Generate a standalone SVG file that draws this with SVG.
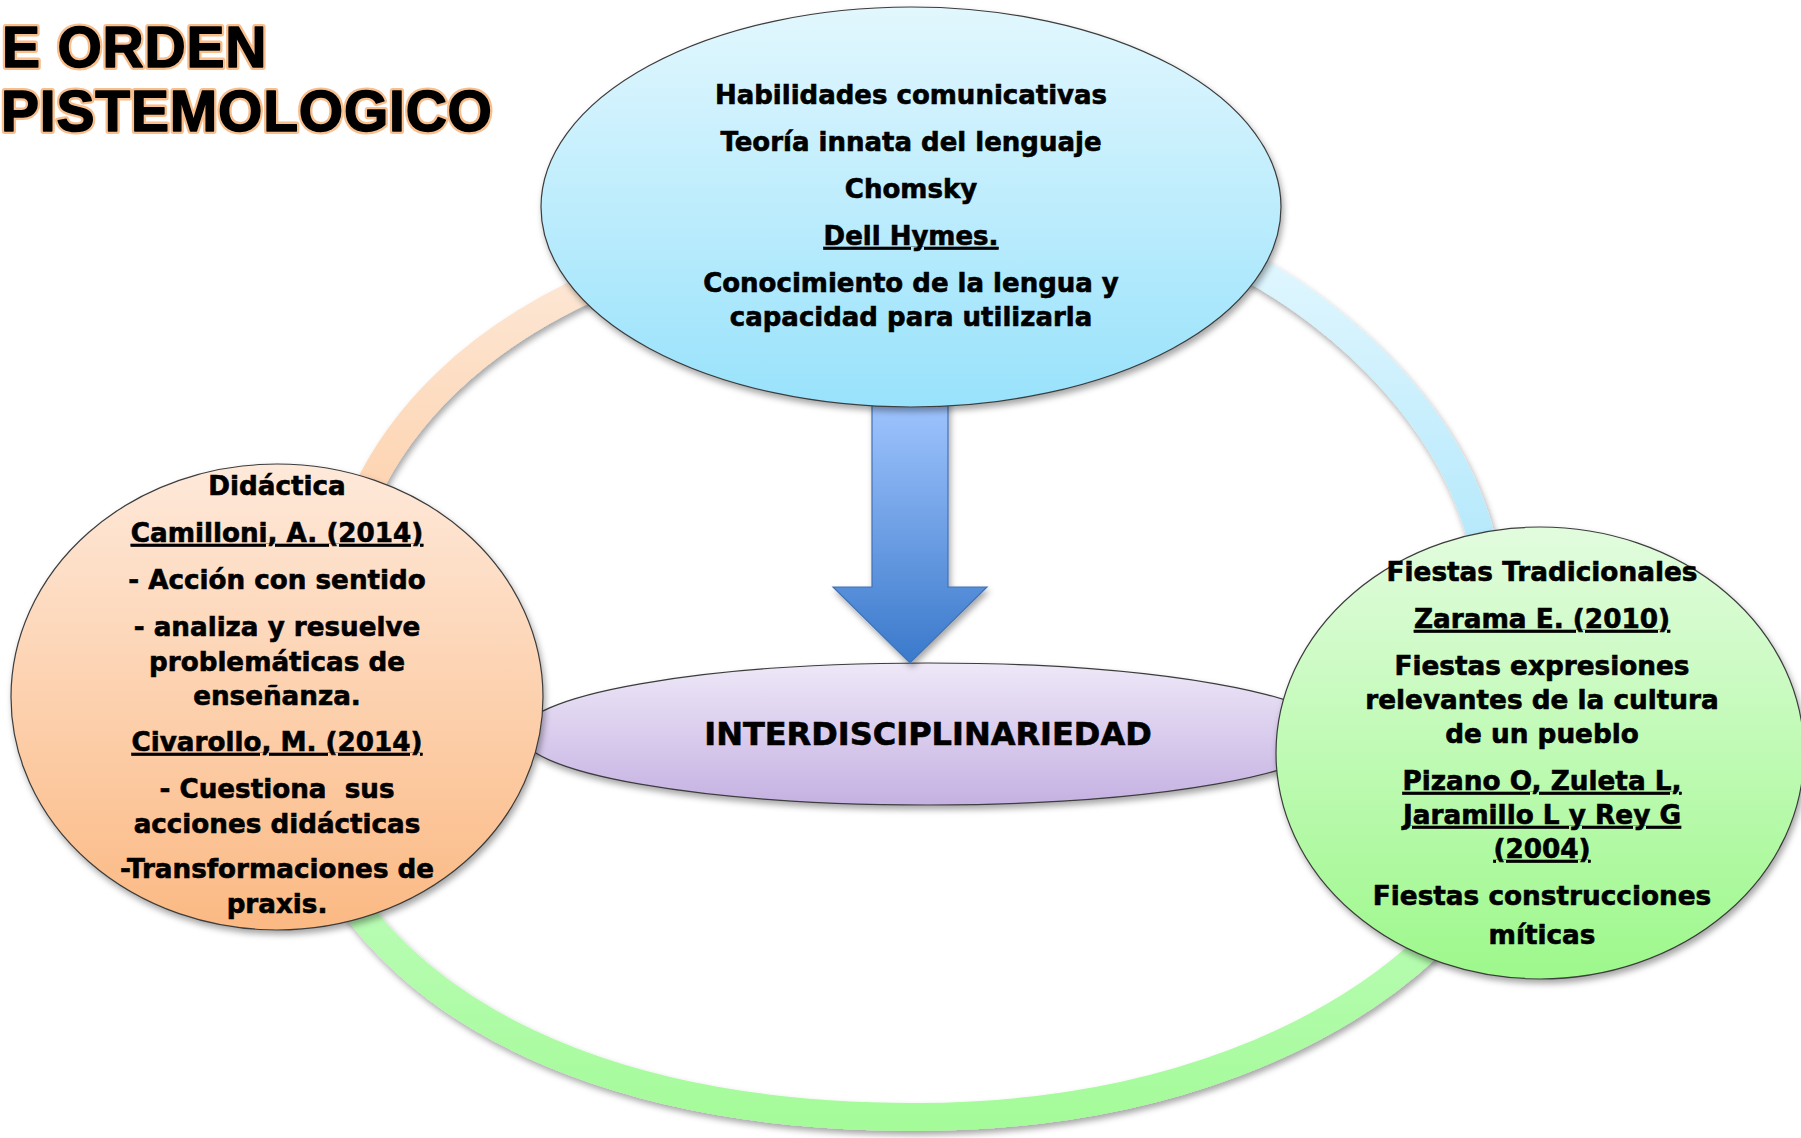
<svg xmlns="http://www.w3.org/2000/svg" width="1801" height="1138" viewBox="0 0 1801 1138">
<defs>
<linearGradient id="gTop" x1="0" y1="0" x2="0" y2="1"><stop offset="0" stop-color="#e2f7fe"/><stop offset="1" stop-color="#98e2fb"/></linearGradient>
<linearGradient id="gOrange" x1="0" y1="0" x2="0" y2="1"><stop offset="0" stop-color="#fee9da"/><stop offset="1" stop-color="#fbb983"/></linearGradient>
<linearGradient id="gGreen" x1="0" y1="0" x2="0" y2="1"><stop offset="0" stop-color="#e2fcde"/><stop offset="1" stop-color="#9df88b"/></linearGradient>
<linearGradient id="gPurple" x1="0" y1="0" x2="0" y2="1"><stop offset="0" stop-color="#eee8f8"/><stop offset="1" stop-color="#c5b1e2"/></linearGradient>
<linearGradient id="gArrow" x1="0" y1="0" x2="0" y2="1"><stop offset="0" stop-color="#a0c5fe"/><stop offset="1" stop-color="#3a79cb"/></linearGradient>
<linearGradient id="gPeach" gradientUnits="userSpaceOnUse" x1="0" y1="285" x2="0" y2="495"><stop offset="0" stop-color="#fde6d3"/><stop offset="1" stop-color="#fdd4b1"/></linearGradient>
<linearGradient id="gBlue" gradientUnits="userSpaceOnUse" x1="0" y1="265" x2="0" y2="560"><stop offset="0" stop-color="#dff6fe"/><stop offset="1" stop-color="#b3e8fc"/></linearGradient>
<linearGradient id="gBand" gradientUnits="userSpaceOnUse" x1="0" y1="900" x2="0" y2="1130"><stop offset="0" stop-color="#b9fcb5"/><stop offset="1" stop-color="#a4fb98"/></linearGradient>
<filter id="sh" x="-10%" y="-10%" width="125%" height="130%"><feDropShadow dx="2" dy="4" stdDeviation="3" flood-color="#000" flood-opacity="0.35"/></filter>
</defs>
<style>
.node{stroke:#3c3c3c;stroke-width:1.2;filter:url(#sh)}
.band{fill:none;stroke-width:28;filter:url(#sh)}
.t{font-family:"DejaVu Sans",Verdana,sans-serif;font-weight:bold;text-anchor:middle;fill:#000;stroke:#000;stroke-width:0.6}
.u{text-decoration:underline}
.title{font-family:"Liberation Sans",Arial,sans-serif;font-weight:bold;font-size:57px;letter-spacing:0.8px}
.tOut{fill:none;stroke:#f8be8c;stroke-width:6;stroke-linejoin:round}
.tIn{fill:#000;stroke:#000;stroke-width:1.4;stroke-linejoin:round}
</style>

<g id="title">
<text class="title tOut" x="2" y="67">E ORDEN</text>
<text class="title tIn" x="2" y="67">E ORDEN</text>
<text class="title tOut" x="1" y="131">PISTEMOLOGICO</text>
<text class="title tIn" x="1" y="131">PISTEMOLOGICO</text>
</g>

<g id="node-interdisciplinariedad">
<ellipse class="node" cx="928" cy="734" rx="407" ry="71" fill="url(#gPurple)"/>
<text class="t" x="928" y="745" font-size="32">INTERDISCIPLINARIEDAD</text>
</g>

<g id="connectors">
<path class="band" stroke="url(#gPeach)" d="M365,495 C400,420 470,340 600,283"/>
<path class="band" stroke="url(#gBlue)" d="M1245,265 C1345,318 1462,425 1486,560"/>
<path class="band" stroke="url(#gBand)" d="M350,900 C450,1040 650,1117 915,1117 C1170,1117 1340,1030 1430,945"/>
<path id="arrow" d="M872,400 L948,400 L948,587 L987,587 L910,663 L833,587 L872,587 Z" fill="url(#gArrow)" stroke="#4172b4" stroke-width="1.2" filter="url(#sh)"/>
</g>

<g id="node-habilidades">
<ellipse class="node" cx="911" cy="207" rx="370" ry="200" fill="url(#gTop)"/>
<g class="t" font-size="26">
<text x="911" y="104">Habilidades comunicativas</text>
<text x="911" y="151">Teoría innata del lenguaje</text>
<text x="911" y="198">Chomsky</text>
<text class="u" x="911" y="245">Dell Hymes.</text>
<text x="911" y="292">Conocimiento de la lengua y</text>
<text x="911" y="326">capacidad para utilizarla</text>
</g>
</g>

<g id="node-didactica">
<ellipse class="node" cx="277" cy="697" rx="266" ry="233" fill="url(#gOrange)"/>
<g class="t" font-size="26.2">
<text x="277" y="495">Didáctica</text>
<text class="u" x="277" y="542">Camilloni, A. (2014)</text>
<text x="277" y="589">- Acción con sentido</text>
<text x="277" y="636">- analiza y resuelve</text>
<text x="277" y="671">problemáticas de</text>
<text x="277" y="705">enseñanza.</text>
<text class="u" x="277" y="751">Civarollo, M. (2014)</text>
<text x="277" y="798" style="white-space:pre">- Cuestiona  sus</text>
<text x="277" y="833">acciones didácticas</text>
<text x="277" y="878">-Transformaciones de</text>
<text x="277" y="913">praxis.</text>
</g>
</g>

<g id="node-fiestas">
<ellipse class="node" cx="1540" cy="753" rx="264" ry="226" fill="url(#gGreen)"/>
<g class="t" font-size="26.3">
<text x="1542" y="581">Fiestas Tradicionales</text>
<text class="u" x="1542" y="628">Zarama E. (2010)</text>
<text x="1542" y="675">Fiestas expresiones</text>
<text x="1542" y="709">relevantes de la cultura</text>
<text x="1542" y="743">de un pueblo</text>
<text class="u" x="1542" y="790">Pizano O, Zuleta L,</text>
<text class="u" x="1542" y="824">Jaramillo L y Rey G</text>
<text class="u" x="1542" y="858">(2004)</text>
<text x="1542" y="905">Fiestas construcciones</text>
<text x="1542" y="944">míticas</text>
</g>
</g>
</svg>
